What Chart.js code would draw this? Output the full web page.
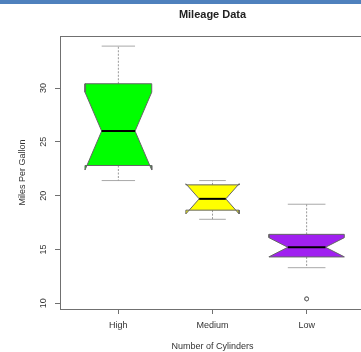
<!DOCTYPE html>
<html>
<head>
<meta charset="utf-8">
<title>Mileage Data</title>
<script src="https://cdn.jsdelivr.net/npm/chart.js@4.4.1/dist/chart.umd.min.js"></script>
<style>
  html, body { margin: 0; padding: 0; background: #fff; overflow: hidden; }
  #wrap { position: relative; width: 361px; height: 352px; overflow: hidden; }
  #mileage { display: block; }
  #topbar { position: absolute; left: 0; top: 0; width: 361px; height: 4px; background: #4f81bd; }
</style>
</head>
<body>
<div id="wrap">
  <canvas id="mileage" width="366" height="352"></canvas>
  <div id="topbar"></div>
</div>

<script>
  // box stats per cylinder group (R boxplot, notch = TRUE, varwidth = TRUE)
  const groups = ['High', 'Medium', 'Low'];
  const counts = [11, 7, 14];
  const lowerWhisker = [21.4, 17.8, 13.3];
  const lowerHinge = [22.8, 18.65, 14.3];
  const medians = [26.0, 19.7, 15.2];
  const upperHinge = [30.4, 21.0, 16.4];
  const upperWhisker = [33.9, 21.4, 19.2];
  const notchLow = [22.38, 18.30, 14.31];
  const notchHigh = [29.62, 21.10, 16.09];
  const outlierGroup = ['Low', 'Low'];
  const outlierValue = [10.4, 10.4];
  const boxColors = ['#00ff00', '#ffff00', '#a020f0'];
  const yTicks = [10, 15, 20, 25, 30];

  Chart.defaults.font.family = "'Liberation Sans', Arial, sans-serif";
  Chart.defaults.font.size = 9;
  Chart.defaults.color = '#333';

  const maxRoot = Math.sqrt(Math.max(...counts));
  const datasets = [];

  groups.forEach((g, i) => {
    const c = i + 1;
    const w = 0.4 * Math.sqrt(counts[i]) / maxRoot; // half box width
    const n = w / 2;                                 // half width at the median
    const outline = [
      {x: c - w, y: upperHinge[i]}, {x: c - w, y: notchHigh[i]}, {x: c - n, y: medians[i]},
      {x: c - w, y: notchLow[i]}, {x: c - w, y: lowerHinge[i]},
      {x: c + w, y: lowerHinge[i]}, {x: c + w, y: notchLow[i]}, {x: c + n, y: medians[i]},
      {x: c + w, y: notchHigh[i]}, {x: c + w, y: upperHinge[i]}
    ];
    datasets.push({data: outline, fill: 'shape', backgroundColor: boxColors[i], borderColor: 'rgba(0,0,0,0)', order: 3});
    datasets.push({data: outline.concat([outline[0]]), borderColor: '#666', order: 2});
    datasets.push({data: [{x: c - n, y: medians[i]}, {x: c + n, y: medians[i]}], borderColor: '#000', borderWidth: 2, order: 1});

    // dashed whiskers and their staples
    datasets.push({data: [{x: c, y: upperHinge[i]}, {x: c, y: upperWhisker[i]}], borderColor: '#999', borderDash: [2, 1.5], order: 4});
    datasets.push({data: [{x: c, y: lowerHinge[i]}, {x: c, y: lowerWhisker[i]}], borderColor: '#999', borderDash: [2, 1.5], order: 4});
    datasets.push({data: [{x: c - n, y: upperWhisker[i]}, {x: c + n, y: upperWhisker[i]}], borderColor: '#a8a8a8', order: 4});
    datasets.push({data: [{x: c - n, y: lowerWhisker[i]}, {x: c + n, y: lowerWhisker[i]}], borderColor: '#a8a8a8', order: 4});
  });

  datasets.forEach(d => {
    d.showLine = true;
    d.pointRadius = 0;
    if (d.borderWidth === undefined) d.borderWidth = 1;
    if (d.fill === undefined) d.fill = false;
  });

  datasets.push({
    data: outlierValue.map((v, k) => ({x: groups.indexOf(outlierGroup[k]) + 1, y: v})),
    showLine: false,
    pointRadius: 2,
    pointBorderWidth: 1,
    pointBorderColor: '#707070',
    pointBackgroundColor: 'rgba(0,0,0,0)',
    order: 0
  });

  // plot frame (R box())
  const frame = {
    id: 'frame',
    afterDatasetsDraw(chart) {
      const {ctx, chartArea: a} = chart;
      ctx.save();
      ctx.strokeStyle = '#707070';
      ctx.lineWidth = 1;
      ctx.strokeRect(Math.round(a.left) + 0.5, Math.round(a.top) + 0.5,
        Math.round(a.right - a.left), Math.round(a.bottom - a.top));
      ctx.restore();
    }
  };

  // y tick labels are drawn parallel to the axis
  const yLabels = {
    id: 'yLabels',
    afterDraw(chart) {
      const {ctx, scales: {y}} = chart;
      ctx.save();
      ctx.fillStyle = '#333';
      ctx.font = "9px 'Liberation Sans', Arial, sans-serif";
      ctx.textAlign = 'center';
      ctx.textBaseline = 'middle';
      y.ticks.forEach(t => {
        ctx.save();
        ctx.translate(43.5, y.getPixelForValue(t.value));
        ctx.rotate(-Math.PI / 2);
        ctx.fillText(String(t.value), 0, 0);
        ctx.restore();
      });
      ctx.restore();
    }
  };

  new Chart(document.getElementById('mileage'), {
    type: 'scatter',
    data: {datasets},
    options: {
      responsive: false,
      animation: false,
      events: [],
      // canvas is a bit wider than the page so the plot region runs past the right edge
      layout: {autoPadding: false, padding: {left: 0, right: 1, top: 0, bottom: 0}},
      plugins: {
        legend: {display: false},
        tooltip: {enabled: false},
        title: {
          display: true,
          text: 'Mileage Data',
          fullSize: false,
          color: '#222',
          font: {size: 11, weight: 'bold'},
          padding: {top: 8.4, bottom: 14.4}
        }
      },
      scales: {
        x: {
          type: 'linear',
          min: 0.38,
          max: 3.62,
          afterBuildTicks: s => { s.ticks = groups.map((g, i) => ({value: i + 1})); },
          afterFit: s => { s.height = 43; s.paddingLeft = 0; s.paddingRight = 0; },
          ticks: {
            callback: v => groups[v - 1],
            autoSkip: false,
            maxRotation: 0,
            padding: 6,
            color: '#333'
          },
          grid: {drawOnChartArea: false, drawTicks: true, tickLength: 5, color: '#707070'},
          border: {display: false},
          title: {display: true, text: 'Number of Cylinders', color: '#333', padding: {top: 0, bottom: 0}}
        },
        y: {
          type: 'linear',
          min: 9.46,
          max: 34.84,
          afterBuildTicks: s => { s.ticks = yTicks.map(v => ({value: v})); },
          afterFit: s => { s.width = 60; s.paddingTop = 0; s.paddingBottom = 0; },
          ticks: {display: false},
          grid: {drawOnChartArea: false, drawTicks: true, tickLength: 5, color: '#707070'},
          border: {display: false},
          title: {display: true, text: 'Miles Per Gallon', color: '#333', padding: {top: 17.5, bottom: 0}}
        }
      }
    },
    plugins: [frame, yLabels]
  });
</script>
</body>
</html>
